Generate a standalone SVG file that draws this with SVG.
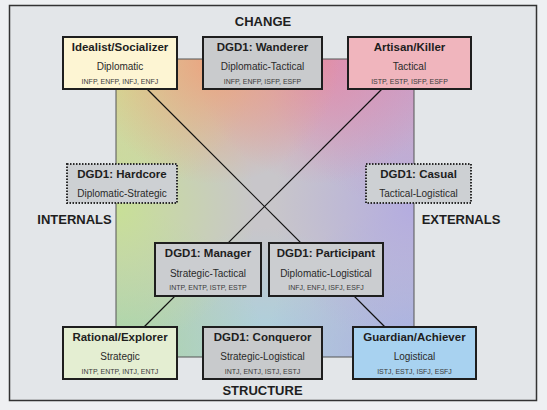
<svg xmlns="http://www.w3.org/2000/svg" width="547" height="410" viewBox="0 0 547 410">
<defs>
<radialGradient id="gTL" cx="116" cy="59" r="140" gradientUnits="userSpaceOnUse"><stop offset="0" stop-color="#d4e08a"/><stop offset="1" stop-color="#d4e08a" stop-opacity="0"/></radialGradient>
<radialGradient id="gT1" cx="215" cy="59" r="125" gradientUnits="userSpaceOnUse"><stop offset="0" stop-color="#eca47e"/><stop offset="1" stop-color="#eca47e" stop-opacity="0"/></radialGradient>
<radialGradient id="gT2" cx="320" cy="59" r="125" gradientUnits="userSpaceOnUse"><stop offset="0" stop-color="#e08cac"/><stop offset="1" stop-color="#e08cac" stop-opacity="0"/></radialGradient>
<radialGradient id="gTR" cx="414" cy="59" r="150" gradientUnits="userSpaceOnUse"><stop offset="0" stop-color="#c89ccc"/><stop offset="1" stop-color="#c89ccc" stop-opacity="0"/></radialGradient>
<radialGradient id="gRM" cx="414" cy="208" r="140" gradientUnits="userSpaceOnUse"><stop offset="0" stop-color="#b4ace0"/><stop offset="1" stop-color="#b4ace0" stop-opacity="0"/></radialGradient>
<radialGradient id="gBR" cx="414" cy="357" r="150" gradientUnits="userSpaceOnUse"><stop offset="0" stop-color="#a4b2e6"/><stop offset="1" stop-color="#a4b2e6" stop-opacity="0"/></radialGradient>
<radialGradient id="gBC" cx="265" cy="357" r="130" gradientUnits="userSpaceOnUse"><stop offset="0" stop-color="#a8d2e0"/><stop offset="1" stop-color="#a8d2e0" stop-opacity="0"/></radialGradient>
<radialGradient id="gBL" cx="116" cy="357" r="150" gradientUnits="userSpaceOnUse"><stop offset="0" stop-color="#a4d8a8"/><stop offset="1" stop-color="#a4d8a8" stop-opacity="0"/></radialGradient>
<radialGradient id="gLM" cx="116" cy="208" r="140" gradientUnits="userSpaceOnUse"><stop offset="0" stop-color="#c8e096"/><stop offset="1" stop-color="#c8e096" stop-opacity="0"/></radialGradient>
</defs>
<style>
.box{stroke:#1e1e1e;stroke-width:2}
.dot{stroke:#2a2a2a;stroke-width:2;stroke-dasharray:1.5 1.5}
.t{font-family:"Liberation Sans",Arial,sans-serif;font-weight:bold;font-size:11.5px;fill:#1e1e1e;text-anchor:middle}
.s{font-family:"Liberation Sans",Arial,sans-serif;font-size:10px;fill:#2a2a2a;text-anchor:middle}
.m{font-family:"Liberation Sans",Arial,sans-serif;font-size:7px;fill:#3a3a3a;text-anchor:middle}
.lab{font-family:"Liberation Sans",Arial,sans-serif;font-size:13px;font-weight:bold;fill:#1e1e1e;text-anchor:middle}
.conn{stroke:#111;stroke-width:1.2;fill:none}
.g{stroke:none}
</style>
<rect x="0" y="0" width="547" height="410" fill="#eef0f2"/>
<rect x="9.5" y="5.5" width="527" height="395" fill="#e3e6e9" stroke="#333" stroke-width="1.5"/>
<g id="square">
<rect x="116" y="59" width="298" height="298" fill="#c8c6ca"/>
<rect class="g" x="116" y="59" width="298" height="298" fill="url(#gBC)"/>
<rect class="g" x="116" y="59" width="298" height="298" fill="url(#gBL)"/>
<rect class="g" x="116" y="59" width="298" height="298" fill="url(#gBR)"/>
<rect class="g" x="116" y="59" width="298" height="298" fill="url(#gRM)"/>
<rect class="g" x="116" y="59" width="298" height="298" fill="url(#gLM)"/>
<rect class="g" x="116" y="59" width="298" height="298" fill="url(#gTL)"/>
<rect class="g" x="116" y="59" width="298" height="298" fill="url(#gTR)"/>
<rect class="g" x="116" y="59" width="298" height="298" fill="url(#gT2)"/>
<rect class="g" x="116" y="59" width="298" height="298" fill="url(#gT1)"/>
<rect x="116" y="59" width="298" height="298" fill="none" stroke="#555" stroke-width="1"/>
</g>
<g id="labels">
<text class="lab" x="263" y="25.5">CHANGE</text>
<text class="lab" x="262.5" y="394.5">STRUCTURE</text>
<text class="lab" x="74.5" y="223.5">INTERNALS</text>
<text class="lab" x="461" y="223.5">EXTERNALS</text>
</g>
<g id="connectors">
<line class="conn" x1="147" y1="89" x2="385" y2="327"/>
<line class="conn" x1="382" y1="89" x2="144" y2="327"/>
</g>
<g id="idealist">
<rect class="box" x="63" y="37" width="114" height="52" fill="#fdf5d3"/>
<text class="t" x="120" y="51">Idealist/Socializer</text>
<text class="s" x="120" y="69.5">Diplomatic</text>
<text class="m" x="120" y="83.5">INFP, ENFP, INFJ, ENFJ</text>
</g>
<g id="wanderer">
<rect class="box" x="203" y="37" width="119" height="52" fill="#c9cbcd"/>
<text class="t" x="262.5" y="51">DGD1: Wanderer</text>
<text class="s" x="262.5" y="69.5">Diplomatic-Tactical</text>
<text class="m" x="262.5" y="83.5">INFP, ENFP, ISFP, ESFP</text>
</g>
<g id="artisan">
<rect class="box" x="348" y="37" width="123" height="52" fill="#f0b5bd"/>
<text class="t" x="409.5" y="51">Artisan/Killer</text>
<text class="s" x="409.5" y="69.5">Tactical</text>
<text class="m" x="409.5" y="83.5">ISTP, ESTP, ISFP, ESFP</text>
</g>
<g id="hardcore">
<rect class="dot" x="67" y="164" width="110" height="39" fill="#cdd0d3"/>
<text class="t" x="122" y="178">DGD1: Hardcore</text>
<text class="s" x="122" y="197">Diplomatic-Strategic</text>
</g>
<g id="casual">
<rect class="dot" x="366" y="164" width="105" height="39" fill="#cdd0d3"/>
<text class="t" x="418.5" y="178">DGD1: Casual</text>
<text class="s" x="418.5" y="197">Tactical-Logistical</text>
</g>
<g id="manager">
<rect class="box" x="155" y="243" width="106" height="53" fill="#cbcdd0"/>
<text class="t" x="208" y="257">DGD1: Manager</text>
<text class="s" x="208" y="277">Strategic-Tactical</text>
<text class="m" x="208" y="290">INTP, ENTP, ISTP, ESTP</text>
</g>
<g id="participant">
<rect class="box" x="269" y="243" width="114" height="53" fill="#cbcdd0"/>
<text class="t" x="326" y="257">DGD1: Participant</text>
<text class="s" x="326" y="277">Diplomatic-Logistical</text>
<text class="m" x="326" y="290">INFJ, ENFJ, ISFJ, ESFJ</text>
</g>
<g id="rational">
<rect class="box" x="63" y="327" width="114" height="52" fill="#e4eed2"/>
<text class="t" x="120" y="341">Rational/Explorer</text>
<text class="s" x="120" y="360">Strategic</text>
<text class="m" x="120" y="373.5">INTP, ENTP, INTJ, ENTJ</text>
</g>
<g id="conqueror">
<rect class="box" x="203" y="327" width="119" height="52" fill="#c8cacc"/>
<text class="t" x="262.5" y="341">DGD1: Conqueror</text>
<text class="s" x="262.5" y="360">Strategic-Logistical</text>
<text class="m" x="262.5" y="373.5">INTJ, ENTJ, ISTJ, ESTJ</text>
</g>
<g id="guardian">
<rect class="box" x="353" y="327" width="123" height="52" fill="#a8d2f0"/>
<text class="t" x="414.5" y="341">Guardian/Achiever</text>
<text class="s" x="414.5" y="360">Logistical</text>
<text class="m" x="414.5" y="373.5">ISTJ, ESTJ, ISFJ, ESFJ</text>
</g>
</svg>
